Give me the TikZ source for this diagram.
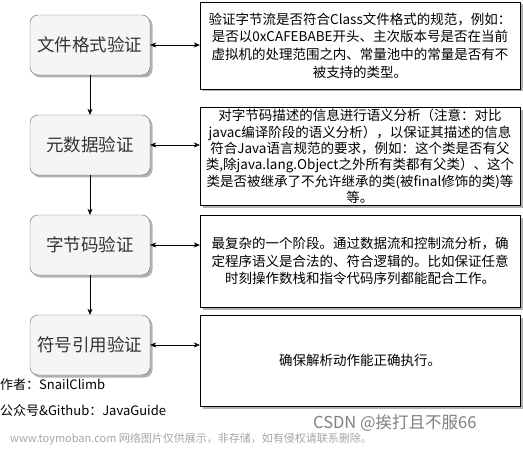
\documentclass[tikz,border=0pt]{standalone}
\usepackage{fontspec}
\setmainfont{Noto Sans CJK SC}
\usepackage{xcolor}
\usetikzlibrary{shapes.geometric, arrows.meta, shadows}
\definecolor{boxfill}{HTML}{F5F5F5}
\definecolor{boxline}{HTML}{666666}
\definecolor{boxtext}{HTML}{333333}
\tikzstyle{stage} = [rectangle, rounded corners=8pt, minimum width=120pt, minimum height=60pt, text centered, draw=boxline, fill=boxfill, text=boxtext, font=\fontsize{17.5}{20}\selectfont, drop shadow={shadow xshift=2.5pt, shadow yshift=-2.5pt, fill=black!30, opacity=1}]
\tikzstyle{desc} = [rectangle, minimum width=320pt, align=center, draw=black, fill=white, inner sep=2pt, font=\fontsize{13.5}{17.6}\selectfont, drop shadow={shadow xshift=2.5pt, shadow yshift=-2.5pt, fill=black!30, opacity=1}]
\tikzstyle{arrow} = [-{Stealth[length=6pt,width=5pt]}]
\tikzstyle{both} = [{Stealth[length=6pt,width=5pt]}-{Stealth[length=6pt,width=5pt]}]
\tikzstyle{note} = [anchor=west, inner sep=0pt, font=\fontsize{13}{15}\selectfont]

\begin{document}
\begin{tikzpicture}[x=1pt, y=-1pt, node distance=100pt]
   \useasboundingbox (0,0) rectangle (523,452);
   \node (f) [stage] at (90,45) {文件格式验证};
   \node (m) [stage, below of=f] {元数据验证};
   \node (b) [stage, below of=m] {字节码验证};
   \node (s) [stage, below of=b] {符号引用验证};
   \node (fd) [desc, minimum height=87pt] at (360,45.5) {验证字节流是否符合Class文件格式的规范，例如：\\是否以0xCAFEBABE开头、主次版本号是否在当前\\虚拟机的处理范围之内、常量池中的常量是否有不\\被支持的类型。};
   \node (md) [desc, minimum height=97pt, font=\fontsize{13.5}{16.3}\selectfont] at (360,156.5) {对字节码描述的信息进行语义分析（注意：对比\\javac编译阶段的语义分析），以保证其描述的信息\\符合Java语言规范的要求，例如：这个类是否有父\\类,除java.lang.Object之外所有类都有父类）、这个\\类是否被继承了不允许继承的类(被final修饰的类)等\\等。};
   \node (bd) [desc, minimum height=92pt] at (360,261) {最复杂的一个阶段。通过数据流和控制流分析，确\\定程序语义是合法的、符合逻辑的。比如保证任意\\时刻操作数栈和指令代码序列都能配合工作。};
   \node (sd) [desc, minimum height=91pt] at (360,360.5) {确保解析动作能正确执行。};
   \draw [arrow] (f) -- (m);
   \draw [arrow] (m) -- (b);
   \draw [arrow] (b) -- (s);
   \draw [both] (f.east) -- (f.east -| fd.west);
   \draw [both] (m.east) -- (m.east -| md.west);
   \draw [both] (b.east) -- (b.east -| bd.west);
   \draw [both] (s.east) -- (s.east -| sd.west);
   \node (a) [note] at (0,385) {作者：SnailClimb};
   \node (g) [note] at (0,411) {公众号\&Github：JavaGuide};
   \node (w) [note, text=black!35, font=\fontsize{11}{12}\selectfont] at (10,439) {www.toymoban.com 网络图片仅供展示，非存储，如有侵权请联系删除。};
   \node (c) [note, text=black!50, font=\fontsize{16.5}{18}\selectfont] at (313,423) {CSDN @挨打且不服66};
\end{tikzpicture}
\end{document}
